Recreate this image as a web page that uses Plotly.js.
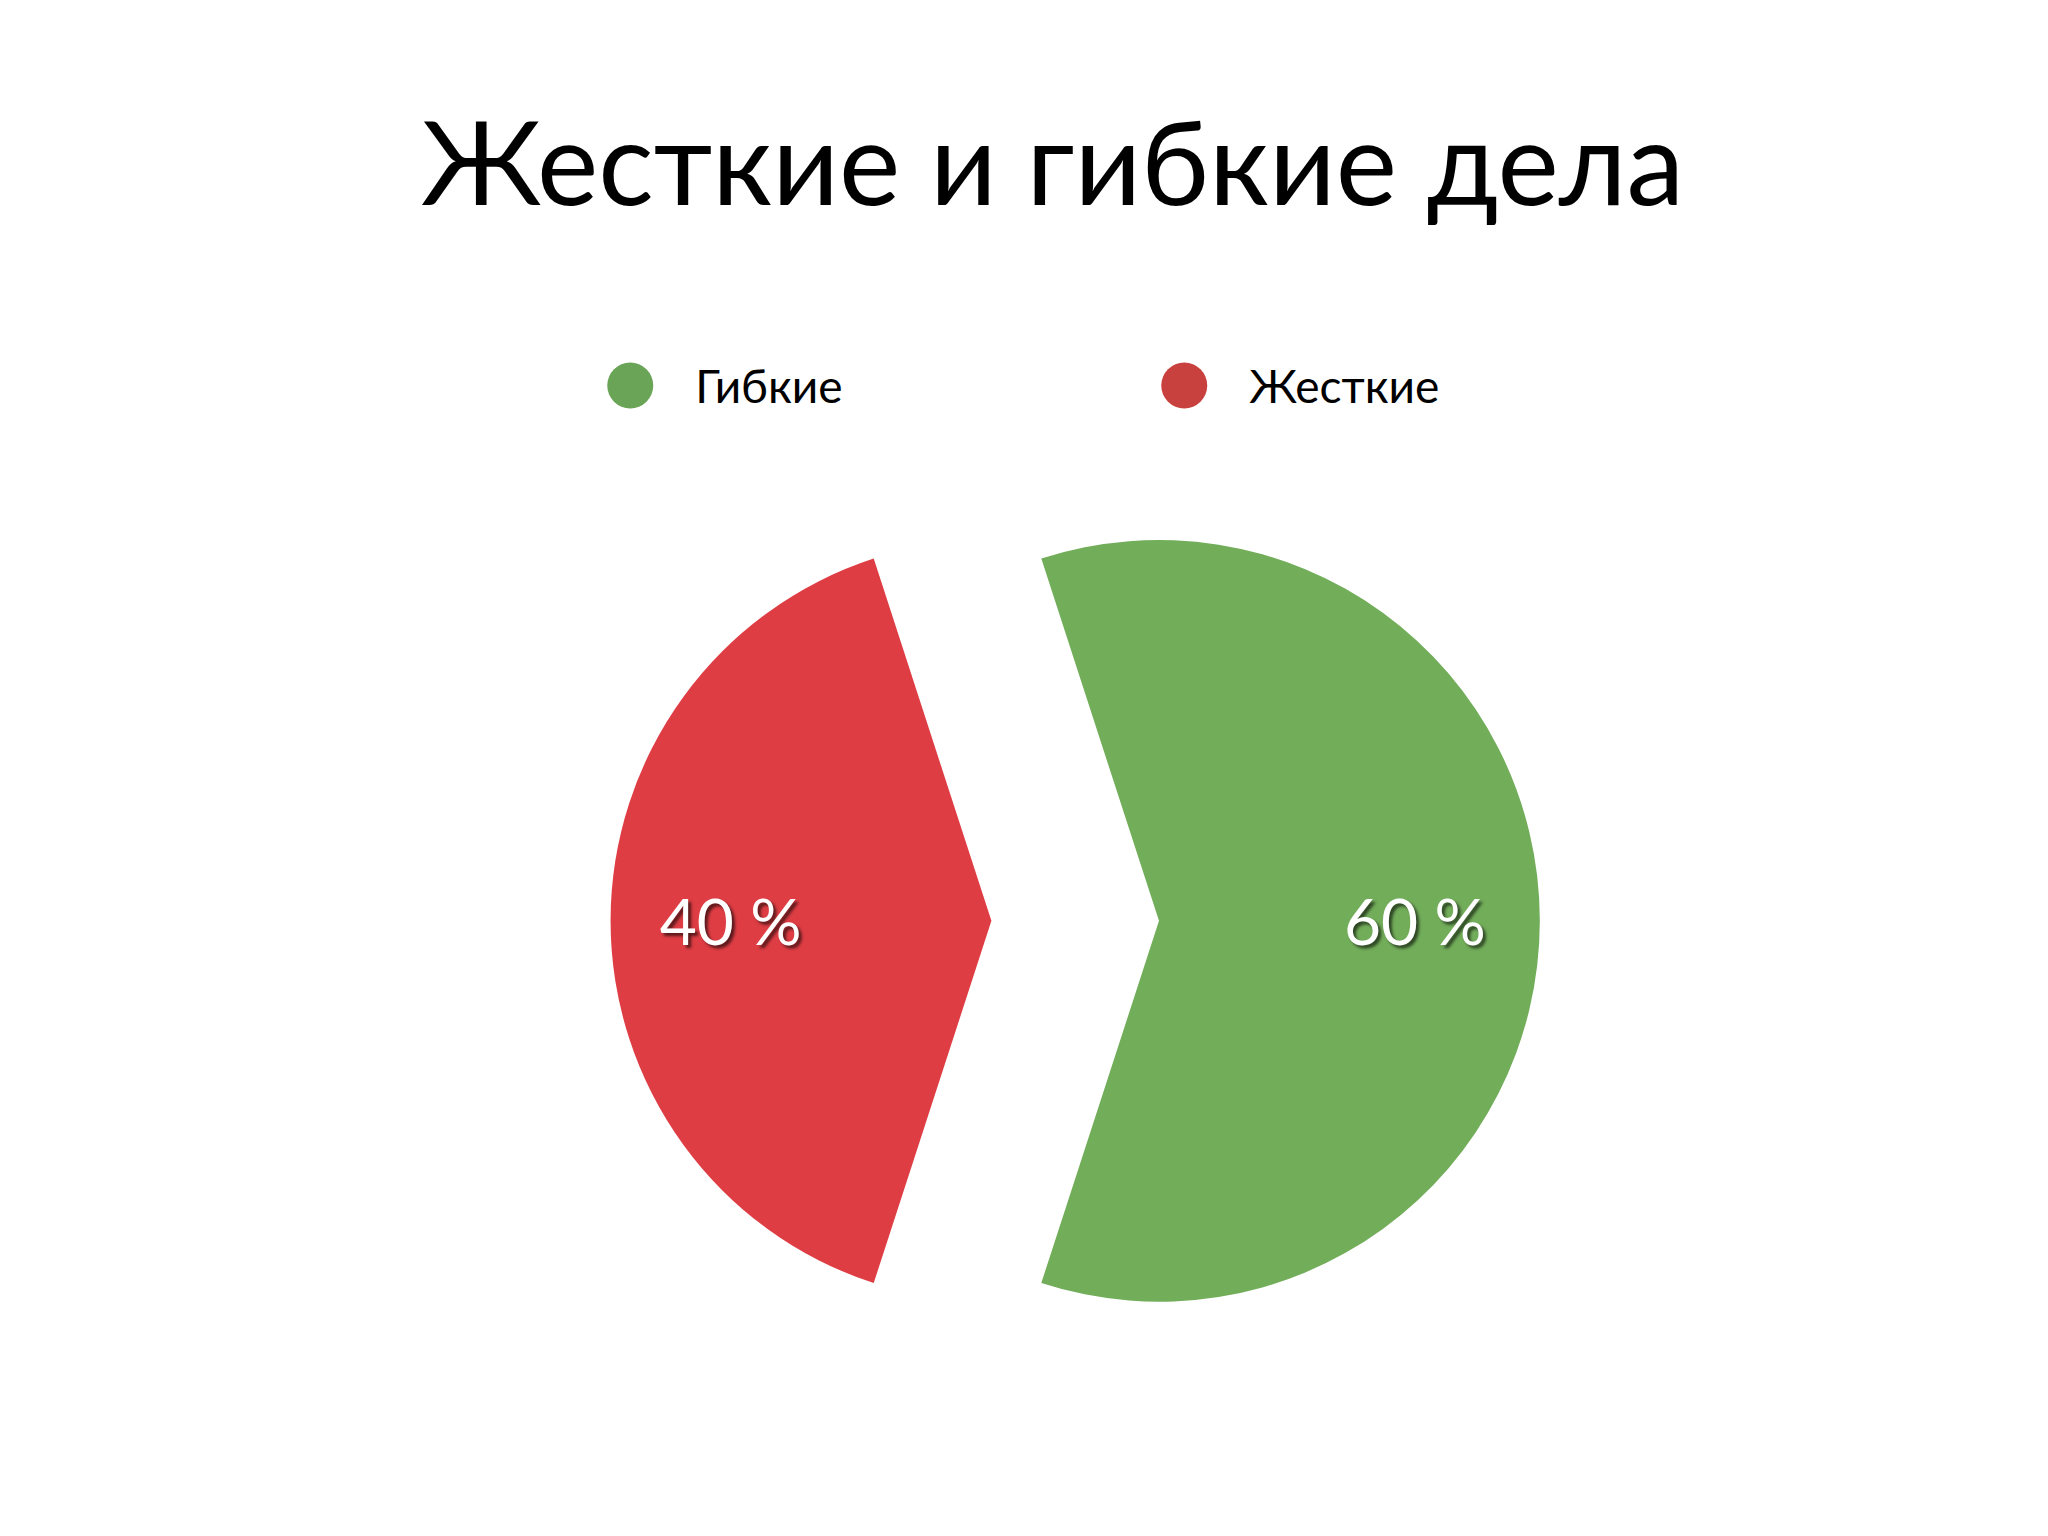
<!DOCTYPE html>
<html>
<head>
<meta charset="utf-8">
<script src="https://cdn.plot.ly/plotly-3.0.1.min.js"></script>
<style>html,body{margin:0;padding:0;background:#fff}</style>
</head>
<body>
<div id="chart" style="width:2048px;height:1536px"></div>
<script>
// chart data
const categories = ['Гибкие', 'Жесткие']
const shares = [60, 40]
const sliceColors = ['#72ad5a', '#de3d44']
const legendColors = ['#6aa557', '#c9413f']

// push the labels towards the outer rim (plotly centres them at r/2)
const pad = '\u00a0'.repeat(8)
const labelTemplates = [pad + '%{value} %', '%{value} %' + pad]

const chart = document.getElementById('chart')

Plotly.newPlot(chart, [
  {
    type: 'pie',
    labels: categories,
    values: shares,
    sort: false,
    direction: 'clockwise',
    rotation: -18,
    pull: [0.22, 0.22],
    domain: { x: [0.298, 0.752], y: [0.098, 0.703] },
    marker: { colors: sliceColors, line: { width: 0 } },
    texttemplate: labelTemplates,
    textposition: 'inside',
    insidetextorientation: 'horizontal',
    textfont: {
      family: 'Lato, sans-serif',
      size: 64,
      color: '#ffffff',
      shadow: '3px 3px 3px rgba(0,0,0,0.6)'
    },
    hoverinfo: 'skip'
  }
], {
  width: 2048,
  height: 1536,
  margin: { l: 0, r: 0, t: 0, b: 0 },
  paper_bgcolor: '#ffffff',
  title: {
    text: 'Жесткие и гибкие дела',
    font: { family: 'Lato, sans-serif', size: 116, color: '#000000' },
    x: 0.514,
    xanchor: 'center',
    y: 0.893,
    yanchor: 'middle'
  },
  showlegend: true,
  legend: {
    orientation: 'h',
    x: 0.276,
    xanchor: 'left',
    y: 0.749,
    yanchor: 'middle',
    itemwidth: 120,
    entrywidth: 419,
    entrywidthmode: 'pixels',
    font: { family: 'Lato, sans-serif', size: 46, color: '#000000' }
  }
}, { staticPlot: true }).then(function () {
  // round legend markers like the original
  const r = 23
  const circle = 'M' + r + ',0A' + r + ',' + r + ' 0 1,1 0,-' + r + 'A' + r + ',' + r + ' 0 0,1 ' + r + ',0Z'
  chart.querySelectorAll('path.legendpie').forEach(function (p, i) {
    p.setAttribute('d', circle)
    p.style.fill = legendColors[i]
    p.style.stroke = 'none'
  })
})
</script>
</body>
</html>
